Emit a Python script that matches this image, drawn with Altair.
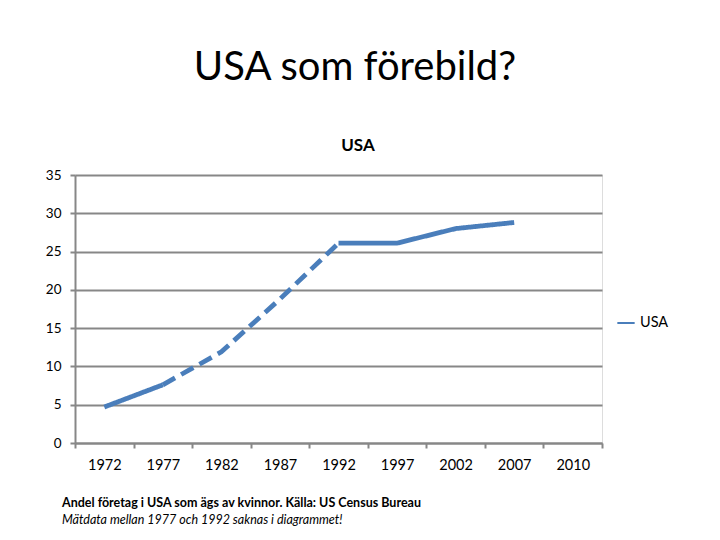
import altair as alt
import pandas as pd

years = ["1972", "1977", "1982", "1987", "1992", "1997", "2002", "2007", "2010"]
data_years = ["1972", "1977", "1977", "1982", "1987", "1992", "1992", "1997", "2002", "2007"]
values = [4.7, 7.6, 7.6, 11.9, 18.8, 26.1, 26.1, 26.1, 28.0, 28.8]
segments = ["a", "a", "b", "b", "b", "b", "c", "c", "c", "c"]
dash_kind = ["solid", "solid", "dashed", "dashed", "dashed", "dashed", "solid", "solid", "solid", "solid"]
series = ["USA"] * len(values)

df = pd.DataFrame({"year": data_years, "value": values, "seg": segments,
                   "dash": dash_kind, "series": series})

FONT = "Lato"
BLUE = "#4A7EBB"
GRID = "#878787"

line = alt.Chart(df).mark_line(strokeWidth=4.8, strokeCap="butt").encode(
    x=alt.X("year:O", scale=alt.Scale(type="band", domain=years, paddingInner=0, paddingOuter=0),
            bandPosition=0.5,
            axis=alt.Axis(title=None, tickBand="extent", labelAngle=0, labelFontSize=14.5,
                          labelFont=FONT, labelColor="#000", tickSize=5, tickColor=GRID,
                          domainColor=GRID, domainWidth=2, tickWidth=2, labelPadding=10,
                          grid=False)),
    y=alt.Y("value:Q", scale=alt.Scale(domain=[0, 35]),
            axis=alt.Axis(title=None, values=[0, 5, 10, 15, 20, 25, 30, 35], labelFontSize=13.5,
                          labelFont=FONT, labelColor="#000", tickSize=5, tickColor=GRID,
                          domainColor=GRID, domainWidth=2, tickWidth=2, gridColor=GRID,
                          gridWidth=2, gridOpacity=1, labelPadding=9)),
    detail="seg:N",
    color=alt.Color("series:N", scale=alt.Scale(domain=["USA"], range=[BLUE]),
                    legend=alt.Legend(title=None, orient="none", legendX=541, legendY=138,
                                      symbolType="stroke", symbolStrokeWidth=2, symbolSize=300,
                                      labelFontSize=14.5, labelFont=FONT, labelColor="#000")),
    strokeDash=alt.StrokeDash("dash:N", scale=alt.Scale(domain=["solid", "dashed"],
                                                        range=[[1, 0], [14, 7]]), legend=None),
)

def txt(t, x, y, size, weight="normal", style="normal", align="center"):
    return alt.Chart(pd.DataFrame({"t": [t]})).mark_text(
        fontSize=size, font=FONT, fontWeight=weight, fontStyle=style, align=align,
        baseline="middle", color="#000").encode(text="t:N", x=alt.value(x), y=alt.value(y))

title = txt("USA som förebild?", 280, -107, 40)
sub = txt("USA", 283, -29, 17, weight="bold")
foot1 = txt("Andel företag i USA som ägs av kvinnor. Källa: US Census Bureau", -13, 328, 12.5,
            weight="bold", align="left")
foot2 = txt("Mätdata mellan 1977 och 1992 saknas i diagrammet!", -13, 345, 12.5,
            style="italic", align="left")

chart = alt.layer(line, title, sub, foot1, foot2).properties(
    width=527, height=268,
    autosize=alt.AutoSizeParams(type="none"),
    padding={"left": 67, "top": 167, "right": 110, "bottom": 89},
).configure_view(stroke=None).configure(background="white")

chart.save("out.html", embed_options={"renderer": "svg", "actions": False})
